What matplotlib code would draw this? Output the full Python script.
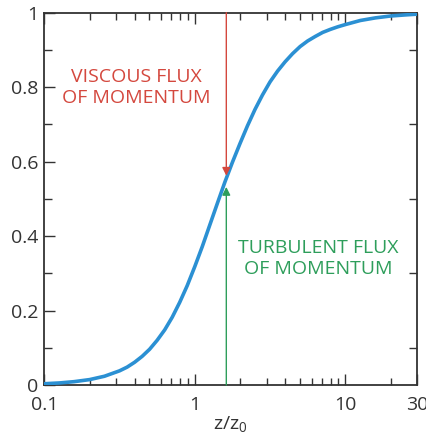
import numpy as np
import matplotlib.pyplot as plt
from matplotlib.ticker import FixedLocator, FixedFormatter, LogLocator, NullFormatter

plt.rcParams['font.family'] = ['Open Sans', 'DejaVu Sans']
plt.rcParams['mathtext.fontset'] = 'custom'
plt.rcParams['mathtext.rm'] = 'Open Sans'
plt.rcParams['mathtext.it'] = 'Open Sans'

# profile: fraction of total stress vs z/z0
z = [0.1, 0.126, 0.158, 0.2, 0.251, 0.316, 0.355, 0.398, 0.447, 0.501,
     0.562, 0.631, 0.708, 0.794, 0.891, 1.0, 1.122, 1.259, 1.413, 1.585,
     1.778, 1.995, 2.239, 2.512, 2.818, 3.162, 3.548, 3.981, 4.467, 5.012,
     5.623, 6.310, 7.079, 7.943, 8.913, 10, 12.59, 15.85, 19.95, 25.12, 30]
frac = [0.0034, 0.0055, 0.009, 0.0145, 0.0235, 0.038, 0.048, 0.061, 0.077, 0.096,
        0.120, 0.148, 0.182, 0.222, 0.267, 0.318, 0.372, 0.430, 0.488, 0.545,
        0.598, 0.648, 0.696, 0.740, 0.779, 0.814, 0.843, 0.868, 0.890, 0.909,
        0.924, 0.936, 0.947, 0.955, 0.962, 0.968, 0.979, 0.986, 0.991, 0.994, 0.996]

z_cross = 1.62
viscous_tip = 0.562
turb_tip = 0.532

xtick_vals = [0.1, 1, 10, 30]
xtick_labels = ['0.1', '1', '10', '30']
ytick_vals = [0, 0.2, 0.4, 0.6, 0.8, 1.0]
ytick_labels = ['0', '0.2', '0.4', '0.6', '0.8', '1']

blue = '#2b90d3'
red = '#d4483e'
green = '#2e9e5b'
dark = '#333333'

fig = plt.figure(figsize=(4.26, 4.37), dpi=100)
ax = fig.add_axes([0.104, 0.119, 0.875, 0.852])

ax.plot(z, frac, color=blue, lw=2.6, solid_capstyle='round',
        solid_joinstyle='round', zorder=3)

ax.annotate('', xy=(z_cross, viscous_tip), xytext=(z_cross, 1.0),
            arrowprops=dict(arrowstyle='-|>', color=red, lw=1.0,
                            mutation_scale=12, shrinkA=0, shrinkB=0), zorder=4)
ax.annotate('', xy=(z_cross, turb_tip), xytext=(z_cross, 0.0),
            arrowprops=dict(arrowstyle='-|>', color=green, lw=1.0,
                            mutation_scale=12, shrinkA=0, shrinkB=0), zorder=4)

ax.text(0.41, 0.80, 'VISCOUS FLUX\nOF MOMENTUM', color=red, fontsize=14,
        ha='center', va='center', linespacing=1.2)
ax.text(6.6, 0.34, 'TURBULENT FLUX\nOF MOMENTUM', color=green, fontsize=14,
        ha='center', va='center', linespacing=1.2)

ax.set_xscale('log')
ax.set_xlim(0.1, 30)
ax.set_ylim(0, 1)

ax.xaxis.set_major_locator(FixedLocator(xtick_vals))
ax.xaxis.set_major_formatter(FixedFormatter(xtick_labels))
ax.xaxis.set_minor_locator(LogLocator(base=10, subs=np.arange(2, 10)))
ax.xaxis.set_minor_formatter(NullFormatter())

ax.yaxis.set_major_locator(FixedLocator(ytick_vals))
ax.yaxis.set_major_formatter(FixedFormatter(ytick_labels))
ax.yaxis.set_minor_locator(FixedLocator([0.1, 0.3, 0.5, 0.7, 0.9]))

ax.tick_params(which='both', direction='in', colors=dark, labelsize=14,
               width=1.0)
ax.tick_params(axis='x', which='major', top=True, length=8, pad=8)
ax.tick_params(axis='x', which='minor', top=True, length=5)
ax.tick_params(axis='y', which='major', right=False, length=8, pad=4)
ax.tick_params(axis='y', which='minor', right=True, length=5.5)

for s in ax.spines.values():
    s.set_color(dark)
    s.set_linewidth(1.3)

ax.set_xlabel(r'z/z$_0$', fontsize=14, color=dark, labelpad=0)

fig.savefig('out.png', dpi=100)
